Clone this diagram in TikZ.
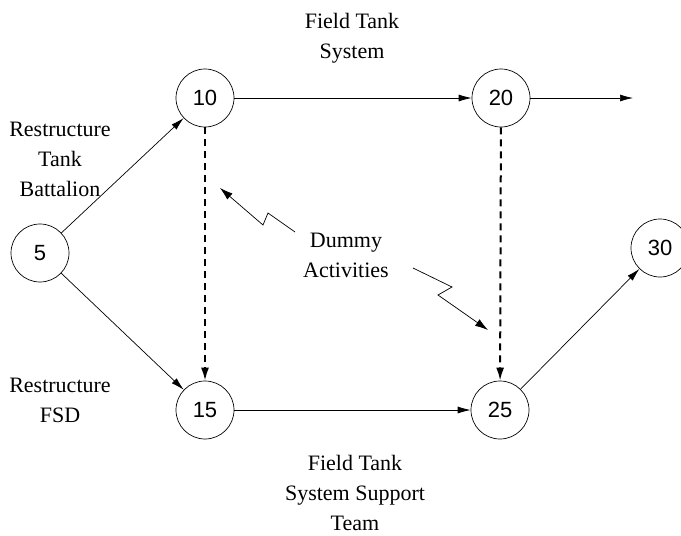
\documentclass[tikz,border=0pt]{standalone}
\usepackage{fontspec}
\setmainfont{Liberation Serif}
\newfontfamily\numfont{Liberation Sans}
\usetikzlibrary{arrows.meta,positioning}
\tikzset{
  evento/.style={draw, circle, line width=0.7pt, minimum size=58pt, inner sep=0pt, font=\numfont\fontsize{22}{24}\selectfont},
  etich/.style={align=center, font=\fontsize{22}{30}\selectfont},
  attiv/.style={line width=0.7pt, -{Latex[length=13pt,width=7pt]}},
  fittizia/.style={line width=2pt, dash pattern=on 7pt off 5pt, -{Latex[length=13pt,width=8pt]}},
  fulmine/.style={line width=0.7pt, -{Latex[length=13pt,width=8pt]}}
}
\begin{document}
\begin{tikzpicture}[x=1pt, y=-1pt]
\useasboundingbox (0,0) rectangle (681,536);
% eventi
\foreach \n/\xx/\yy in {5/40/253, 10/205/98, 20/501/98, 15/205/410, 25/500/410, 30/660/248}{
  \node[evento] (n\n) at (\xx,\yy) {\n};
}
\coordinate (fine) at (633,98);
% attivita
\draw[attiv] (n5) -- (n10);
\draw[attiv] (n5) -- (n15);
\draw[attiv] (n10) -- (n20);
\draw[attiv] (n20) -- (fine);
\draw[attiv] (n15) -- (n25);
\draw[attiv] (n25) -- (n30);
% attivita fittizie
\draw[fittizia] (n10) -- (n15);
\draw[fittizia] (n20) -- (n25);
% etichette
\node[etich] (l1) at (352,38) {Field Tank\\System};
\node[etich] (l2) at (60,159) {Restructure\\Tank\\Battalion};
\node[etich] (l3) at (60,400) {Restructure\\FSD};
\node[etich] (l4) at (355,493) {Field Tank\\System Support\\Team};
\node[etich] (dummy) at (346,255) {Dummy\\Activities};
% frecce a zigzag
\draw[fulmine] (295,232) -- (268,213) -- (263,225) -- (220,188);
\draw[fulmine] (413,268) -- (452,287) -- (438,295) -- (488,330);
\end{tikzpicture}
\end{document}
